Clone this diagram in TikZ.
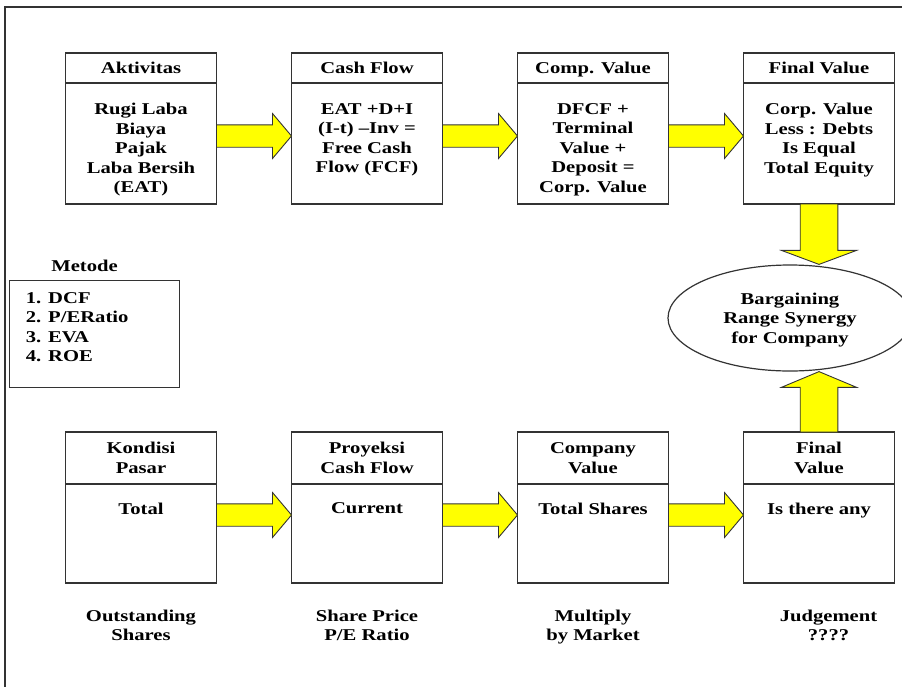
\documentclass[tikz,border=0pt]{standalone}
\usepackage{fontspec}
\setmainfont{Liberation Serif}[FakeStretch=1.25]
\usepackage{xcolor}
\definecolor{arrowYellow}{HTML}{FFFF00}
\definecolor{lineGray}{HTML}{333333}
\usepackage{tikz}
\usetikzlibrary{shapes, positioning, calc}

% block arrow: start, tip, shaft half width, head half width, head length
\newcommand{\fatarrow}[5]{%
  \coordinate (fahead) at ($(#2)!#5!(#1)$);
  \draw[fatarrow] ($(#1)!#3!90:(#2)$) -- ($(fahead)!#3!90:(#2)$)
    -- ($(fahead)!#4!90:(#2)$) -- (#2) -- ($(fahead)!#4!-90:(#2)$)
    -- ($(fahead)!#3!-90:(#2)$) -- ($(#1)!#3!-90:(#2)$) -- cycle;
}

\begin{document}
\begin{tikzpicture}[
    x=1pt, y=-1pt,
    font=\fontsize{16.5}{19.5}\selectfont\bfseries,
    card/.style={
        draw=lineGray,
        line width=1.2pt,
        rectangle,
        minimum width=151pt,
        minimum height=151pt,
        inner sep=0pt,
        outer sep=0pt,
        anchor=north west
    },
    cardhead/.style={
        draw=lineGray,
        line width=1.2pt,
        rectangle,
        minimum width=151pt,
        inner sep=0pt,
        outer sep=0pt,
        text depth=0pt,
        anchor=north,
        align=center
    },
    cardtext/.style={
        inner sep=0pt,
        align=center,
        anchor=north
    },
    fatarrow/.style={
        draw=lineGray,
        line width=0.9pt,
        fill=arrowYellow,
        line join=miter
    }
]
\useasboundingbox (0,0) rectangle (902,686);

% outer frame
\draw[lineGray, line width=1.2pt] (5,7) rectangle (960,720);

% upper row
\node[card] (akt) at (65.5,53) {};
\node[cardhead, minimum height=30pt] (akth) at (akt.north) {Aktivitas};
\node[cardtext, below=20pt of akth] (aktt) {Rugi Laba\\Biaya\\Pajak\\Laba Bersih\\(EAT)};

\node[card] (cf) at (291.5,53) {};
\node[cardhead, minimum height=30pt] (cfh) at (cf.north) {Cash Flow};
\node[cardtext, below=20pt of cfh] (cft) {EAT +D+I\\(I-t) --Inv =\\Free Cash\\Flow (FCF)};

\node[card] (cv) at (517.5,53) {};
\node[cardhead, minimum height=30pt] (cvh) at (cv.north) {Comp. Value};
\node[cardtext, below=20pt of cvh] (cvt) {DFCF +\\Terminal\\Value +\\Deposit =\\Corp. Value};

\node[card] (fin) at (743.5,53) {};
\node[cardhead, minimum height=30pt] (finh) at (fin.north) {Final Value};
\node[cardtext, below=20pt of finh] (fint) {Corp. Value\\Less : Debts\\Is Equal\\Total Equity};

% metode
\node (metode) at (84.5,266) {Metode};
\node[draw=lineGray, line width=1.2pt, minimum width=169.7pt, minimum height=106.7pt,
      inner sep=0pt, anchor=north west] (metbox) at (9,280) {};
\node[inner sep=0pt, align=left, anchor=north west] (metlist)
      at ([xshift=16.7pt, yshift=-12.3pt]metbox.north west)
      {1. DCF\\2. P/ERatio\\3. EVA\\4. ROE};

% bargaining
\node[ellipse, draw=lineGray, line width=1.2pt, minimum width=244pt, minimum height=106pt,
      inner sep=0pt, text depth=0pt, align=center] (brs) at (790,318)
      {Bargaining\\Range Synergy\\for Company};

% lower row
\node[card] (kond) at (65.5,432) {};
\node[cardhead, minimum height=52pt] (kondh) at (kond.north) {Kondisi\\Pasar};
\node[cardtext, below=18.5pt of kondh] (kondt) {Total};

\node[card] (proy) at (291.5,432) {};
\node[cardhead, minimum height=52pt] (proyh) at (proy.north) {Proyeksi\\Cash Flow};
\node[cardtext, below=18.5pt of proyh] (proyt) {Current};

\node[card] (comp) at (517.5,432) {};
\node[cardhead, minimum height=52pt] (comph) at (comp.north) {Company\\Value};
\node[cardtext, below=18.5pt of comph] (compt) {Total Shares};

\node[card] (finb) at (743.5,432) {};
\node[cardhead, minimum height=52pt] (finbh) at (finb.north) {Final\\Value};
\node[cardtext, below=18.5pt of finbh] (finbt) {Is there any};

% notes under the lower row
\node[cardtext, below=26.7pt of kond] (kondn) {Outstanding\\Shares};
\node[cardtext, below=26.7pt of proy] (proyn) {Share Price\\P/E Ratio};
\node[cardtext, below=26.7pt of comp] (compn) {Multiply\\by Market};
\node[cardtext, below=26.7pt of finb, xshift=9.5pt] (finbn) {Judgement\\????};

% arrows
\coordinate (a1s) at ([yshift=-7.5pt]akt.east);
\coordinate (a1e) at ([yshift=-7.5pt]cf.west);
\coordinate (a2s) at ([yshift=-7.5pt]cf.east);
\coordinate (a2e) at ([yshift=-7.5pt]cv.west);
\coordinate (a3s) at ([yshift=-7.5pt]cv.east);
\coordinate (a3e) at ([yshift=-7.5pt]fin.west);
\fatarrow{a1s}{a1e}{11.2pt}{22.5pt}{19pt}
\fatarrow{a2s}{a2e}{11.2pt}{22.5pt}{19pt}
\fatarrow{a3s}{a3e}{11.2pt}{22.5pt}{19pt}

\coordinate (b1s) at ([yshift=-7.5pt]kond.east);
\coordinate (b1e) at ([yshift=-7.5pt]proy.west);
\coordinate (b2s) at ([yshift=-7.5pt]proy.east);
\coordinate (b2e) at ([yshift=-7.5pt]comp.west);
\coordinate (b3s) at ([yshift=-7.5pt]comp.east);
\coordinate (b3e) at ([yshift=-7.5pt]finb.west);
\fatarrow{b1s}{b1e}{11.2pt}{22.5pt}{19pt}
\fatarrow{b2s}{b2e}{11.2pt}{22.5pt}{19pt}
\fatarrow{b3s}{b3e}{11.2pt}{22.5pt}{19pt}

\coordinate (tipa) at (brs.north -| fin.south);
\coordinate (tipb) at (brs.south -| finb.north);
\fatarrow{fin.south}{tipa}{18.8pt}{37.5pt}{14pt}
\fatarrow{finb.north}{tipb}{18.8pt}{37.5pt}{15.7pt}

\end{tikzpicture}
\end{document}
